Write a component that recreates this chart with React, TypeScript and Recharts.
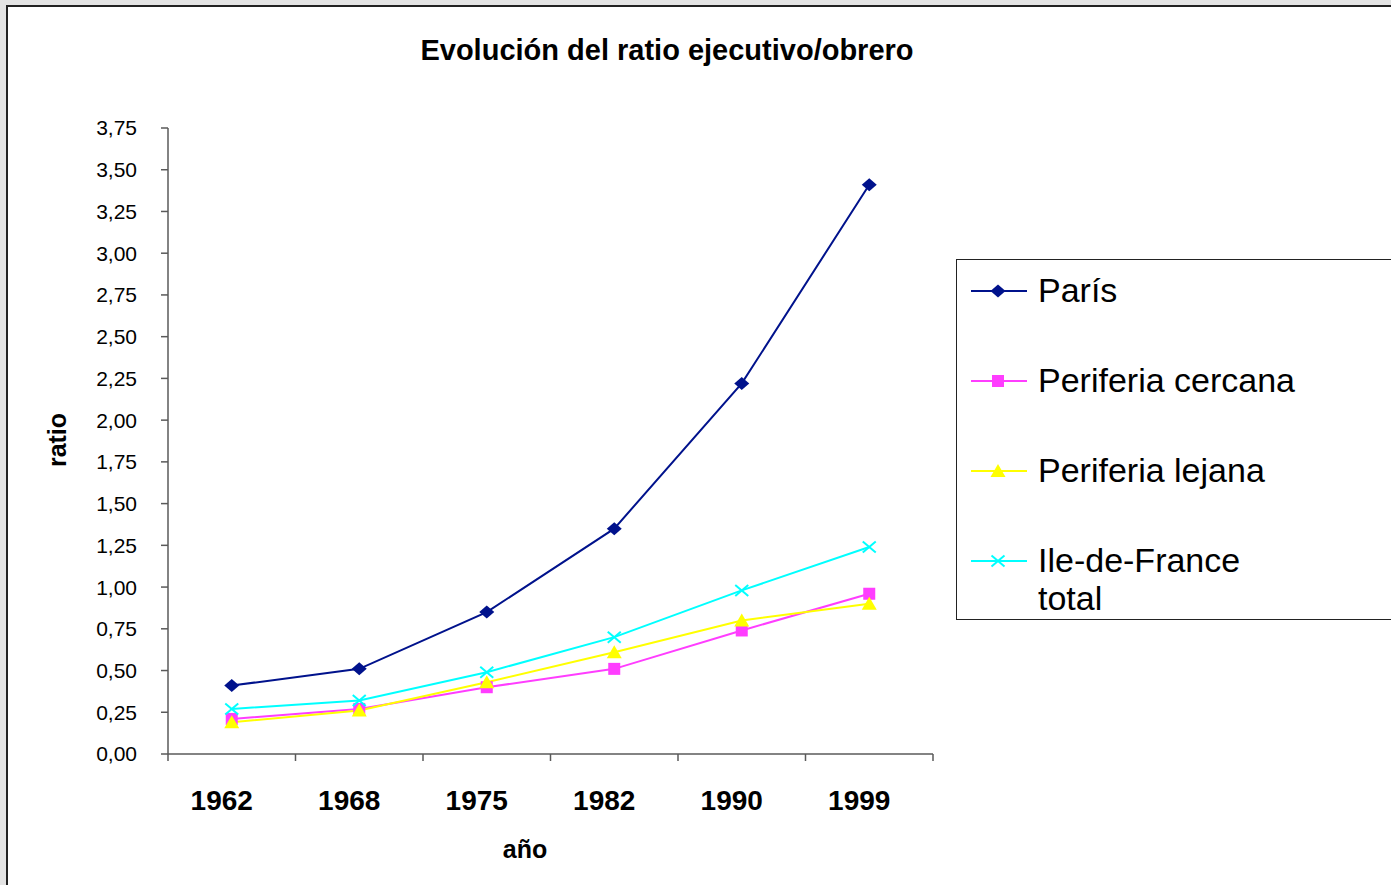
import React from 'react';
import { LineChart, Line, XAxis, YAxis } from 'recharts';

const years = ['1962', '1968', '1975', '1982', '1990', '1999'];
const paris = [0.41, 0.51, 0.85, 1.35, 2.22, 3.41];
const cercana = [0.21, 0.27, 0.40, 0.51, 0.74, 0.96];
const lejana = [0.19, 0.26, 0.43, 0.61, 0.80, 0.90];
const idf = [0.27, 0.32, 0.49, 0.70, 0.98, 1.24];
const yTicks = [0, 0.25, 0.5, 0.75, 1, 1.25, 1.5, 1.75, 2, 2.25, 2.5, 2.75, 3, 3.25, 3.5, 3.75];

const seriesNames = ['París', 'Periferia cercana', 'Periferia lejana', 'Ile-de-France total'];
const seriesKeys = ['paris', 'cercana', 'lejana', 'idf'];
const seriesColors = ['#00128c', '#ff3dff', '#ffff00', '#00ffff'];
const seriesShapes = ['diamond', 'square', 'triangle', 'cross'];

const data = years.map((y, i) => ({
  x: i + 0.5,
  year: y,
  paris: paris[i],
  cercana: cercana[i],
  lejana: lejana[i],
  idf: idf[i],
}));

const boundaryTicks = years.map((_, i) => i).concat([years.length]);
const centerTicks = years.map((_, i) => i + 0.5);

const FONT = '"Liberation Sans", Arial, sans-serif';
const AXIS = '#5a5a5a';

function Marker({ shape, color, cx, cy }: { shape: string; color: string; cx: number; cy: number }) {
  if (shape === 'diamond') {
    return <polygon points={`${cx},${cy - 6.5} ${cx + 7.5},${cy} ${cx},${cy + 6.5} ${cx - 7.5},${cy}`} fill={color} />;
  }
  if (shape === 'square') {
    return <rect x={cx - 6} y={cy - 6} width={12} height={12} fill={color} />;
  }
  if (shape === 'triangle') {
    return <polygon points={`${cx},${cy - 7} ${cx + 7.5},${cy + 6} ${cx - 7.5},${cy + 6}`} fill={color} />;
  }
  return (
    <g stroke={color} strokeWidth={2}>
      <line x1={cx - 6.5} y1={cy - 5.5} x2={cx + 6.5} y2={cy + 5.5} />
      <line x1={cx - 6.5} y1={cy + 5.5} x2={cx + 6.5} y2={cy - 5.5} />
    </g>
  );
}

const makeDot = (shape: string, color: string) => (props: any) => {
  const { cx, cy, index } = props;
  if (cx == null || cy == null) return <g key={index} />;
  return <Marker key={index} shape={shape} color={color} cx={cx} cy={cy} />;
};

const LegendBox = () => (
  <div
    style={{
      position: 'absolute',
      left: 956,
      top: 259,
      width: 440,
      height: 361,
      border: '1px solid #222',
      background: '#fff',
      boxSizing: 'border-box',
      fontFamily: FONT,
    }}
  >
    {seriesNames.map((name, i) => (
      <div key={name} style={{ position: 'absolute', left: 0, top: 13 + i * 90, width: 440 }}>
        <svg width={80} height={40} style={{ position: 'absolute', left: 0, top: 0 }}>
          <line x1={14} y1={18} x2={70} y2={18} stroke={seriesColors[i]} strokeWidth={2} />
          <Marker shape={seriesShapes[i]} color={seriesColors[i]} cx={41} cy={18} />
        </svg>
        <div
          style={{
            position: 'absolute',
            left: 81,
            top: -2,
            width: 260,
            fontSize: 34,
            lineHeight: '38px',
            color: '#000',
          }}
        >
          {name}
        </div>
      </div>
    ))}
  </div>
);

export default function App() {
  return (
    <div
      style={{
        position: 'absolute',
        left: 0,
        top: 0,
        width: 1391,
        height: 885,
        background: '#e4e4e4',
        overflow: 'hidden',
        fontFamily: FONT,
      }}
    >
      <div
        style={{
          position: 'absolute',
          left: 6,
          top: 5,
          width: 1400,
          height: 900,
          background: '#fff',
          border: '2px solid #222',
        }}
      />
      <div style={{ position: 'absolute', left: 0, top: 0 }}>
        <LineChart
          width={1391}
          height={885}
          data={data}
          margin={{ top: 128, right: 458, left: 0, bottom: 0 }}
        >
          <XAxis
            xAxisId="axis0"
            type="number"
            dataKey="x"
            domain={[0, 6]}
            ticks={boundaryTicks}
            tickFormatter={() => ''}
            height={8}
            tickSize={7}
            stroke={AXIS}
            strokeWidth={1.5}
            interval={0}
          />
          <XAxis
            xAxisId="axis1"
            type="number"
            dataKey="x"
            domain={[0, 6]}
            ticks={centerTicks}
            tickFormatter={(v: number) => years[Math.floor(v)]}
            height={123}
            axisLine={false}
            tickLine={false}
            tickSize={0}
            tickMargin={28}
            interval={0}
            tick={{ fill: '#000', fontSize: 28, fontWeight: 'bold', fontFamily: FONT, dx: -10 }}
          />
          <YAxis
            type="number"
            domain={[0, 3.75]}
            ticks={yTicks}
            width={168}
            tickSize={7}
            tickMargin={24}
            interval={0}
            stroke={AXIS}
            strokeWidth={1.5}
            tickFormatter={(v: number) => v.toFixed(2).replace('.', ',')}
            tick={{ fill: '#000', fontSize: 21, fontFamily: FONT }}
          />
          {seriesKeys.map((k, i) => (
            <Line
              key={k}
              xAxisId="axis0"
              type="linear"
              dataKey={k}
              name={seriesNames[i]}
              stroke={seriesColors[i]}
              strokeWidth={2}
              dot={makeDot(seriesShapes[i], seriesColors[i])}
              activeDot={false}
              isAnimationActive={false}
            />
          ))}
        </LineChart>
      </div>
      <LegendBox />
      <div
        style={{
          position: 'absolute',
          left: 367,
          top: 34,
          width: 600,
          textAlign: 'center',
          fontSize: 29,
          fontWeight: 'bold',
          color: '#000',
        }}
      >
        Evolución del ratio ejecutivo/obrero
      </div>
      <div
        style={{
          position: 'absolute',
          left: 57,
          top: 440,
          transform: 'translate(-50%, -50%) rotate(-90deg)',
          fontSize: 25,
          fontWeight: 'bold',
          color: '#000',
          whiteSpace: 'nowrap',
        }}
      >
        ratio
      </div>
      <div
        style={{
          position: 'absolute',
          left: 425,
          top: 835,
          width: 200,
          textAlign: 'center',
          fontSize: 25,
          fontWeight: 'bold',
          color: '#000',
        }}
      >
        año
      </div>
    </div>
  );
}
